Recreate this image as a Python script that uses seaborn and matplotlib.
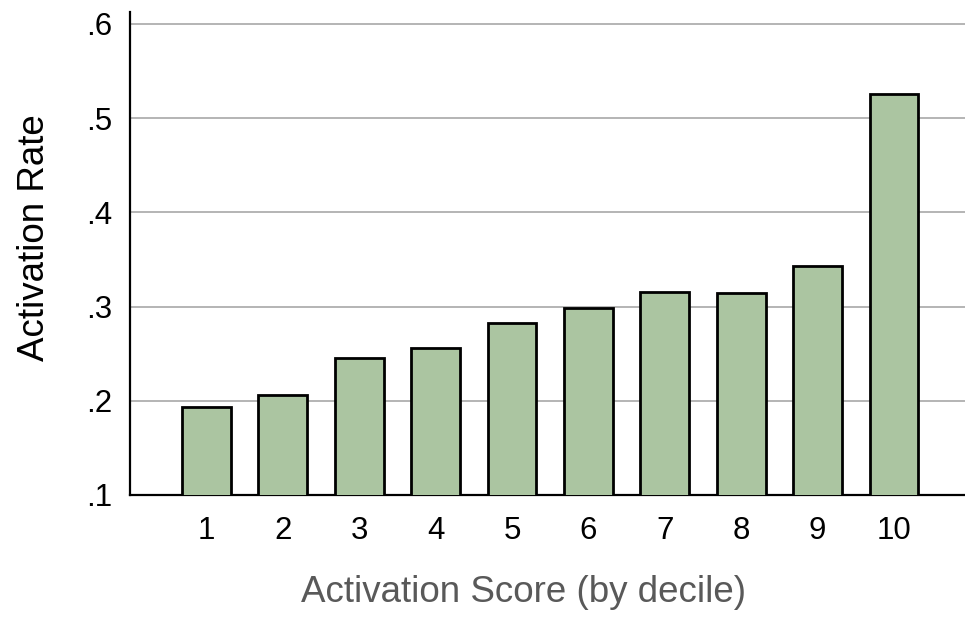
import matplotlib
matplotlib.use("Agg")
import matplotlib.pyplot as plt
import seaborn as sns
import pandas as pd

# Activation rate by activation-score decile
deciles = ["1", "2", "3", "4", "5", "6", "7", "8", "9", "10"]
rates = [0.193, 0.206, 0.245, 0.256, 0.283, 0.298, 0.316, 0.314, 0.343, 0.526]
y_ticks = [0.1, 0.2, 0.3, 0.4, 0.5, 0.6]
y_tick_labels = [".1", ".2", ".3", ".4", ".5", ".6"]

df = pd.DataFrame({"decile": deciles, "rate": rates})

sns.set_theme(style="white")
plt.rcParams["font.family"] = ["Liberation Sans", "DejaVu Sans"]

fig = plt.figure(figsize=(9.65, 6.22), dpi=100)
ax = fig.add_axes([0.1347, 0.2042, 0.8653, 0.7765])

sns.barplot(data=df, x="decile", y="rate", order=deciles, color="#abc5a1",
            saturation=1, width=0.64, edgecolor="black", linewidth=2.0,
            ax=ax, zorder=3)

ax.set_ylim(0.1, 0.6127)
ax.set_xlim(-1, 9.93)
ax.set_yticks(y_ticks)
ax.set_yticklabels(y_tick_labels)
ax.yaxis.grid(True, color="#b4b4b4", linewidth=1.4, zorder=0)
ax.set_axisbelow(True)
ax.tick_params(axis="both", length=0, labelsize=22.5, colors="black")
ax.tick_params(axis="x", pad=15)
ax.tick_params(axis="y", pad=13)

for side in ["top", "right"]:
    ax.spines[side].set_visible(False)
for side in ["left", "bottom"]:
    ax.spines[side].set_color("black")
    ax.spines[side].set_linewidth(1.6)

ax.set_ylabel("Activation Rate", fontsize=26.5, color="black")
ax.yaxis.set_label_coords(-0.093, 0.532)
ax.set_xlabel("Activation Score (by decile)", fontsize=26.5, color="#595959")
ax.xaxis.set_label_coords(0.471, -0.166)
ax.xaxis.label.set_va("top")

fig.savefig("out.png", dpi=100)
